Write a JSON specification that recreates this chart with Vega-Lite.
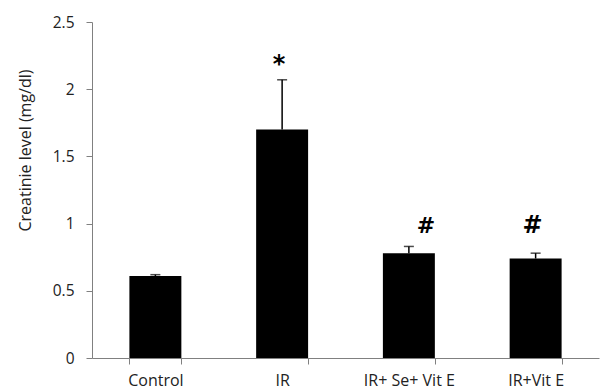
{
  "$schema": "https://vega.github.io/schema/vega-lite/v6.json",
  "width": 507,
  "height": 336,
  "autosize": "none",
  "padding": {"left": 92, "top": 22, "right": 4, "bottom": 33},
  "background": "white",
  "config": {
    "view": {"stroke": null},
    "font": "Open Sans",
    "axis": {"labelFont": "Open Sans", "titleFont": "Open Sans", "grid": false}
  },
  "data": {
    "values": [
      {"group": "Control", "mean": 0.61, "upper": 0.62, "sig": "", "sigY": 0.7},
      {"group": "IR", "mean": 1.70, "upper": 2.07, "sig": "*", "sigY": 2.18},
      {"group": "IR+ Se+ Vit E", "mean": 0.78, "upper": 0.83, "sig": "#", "sigY": 0.98},
      {"group": "IR+Vit E", "mean": 0.74, "upper": 0.78, "sig": "#", "sigY": 0.98}
    ]
  },
  "encoding": {
    "x": {
      "field": "group",
      "type": "nominal",
      "sort": ["Control", "IR", "IR+ Se+ Vit E", "IR+Vit E"],
      "scale": {"paddingInner": 0.59, "paddingOuter": 0.295},
      "axis": {
        "title": null,
        "labelAngle": 0,
        "tickBand": "extent",
        "tickSize": 6,
        "labelPadding": 8,
        "labelFontSize": 16,
        "labelColor": "#222222",
        "domainColor": "#808080",
        "tickColor": "#808080"
      }
    }
  },
  "layer": [
    {
      "mark": {"type": "bar", "color": "black"},
      "encoding": {
        "y": {
          "field": "mean",
          "type": "quantitative",
          "scale": {"domain": [0, 2.5], "nice": false},
          "axis": {
            "title": "Creatinie level (mg/dl)",
            "values": [0, 0.5, 1, 1.5, 2, 2.5],
            "format": "~g",
            "tickSize": 6,
            "labelPadding": 12,
            "labelFontSize": 15.5,
            "labelColor": "#222222",
            "titleFontSize": 16,
            "titleFontWeight": "normal",
            "titleColor": "#222222",
            "titleX": -67,
            "titleY": 128,
            "titleAlign": "center",
            "titleBaseline": "middle",
            "titleAngle": -90,
            "domainColor": "#808080",
            "tickColor": "#808080"
          }
        }
      }
    },
    {
      "mark": {"type": "rule", "color": "black", "strokeWidth": 1.5},
      "encoding": {
        "y": {"field": "mean", "type": "quantitative"},
        "y2": {"field": "upper"}
      }
    },
    {
      "mark": {"type": "tick", "color": "black", "size": 10, "thickness": 1.5},
      "encoding": {
        "y": {"field": "upper", "type": "quantitative"}
      }
    },
    {
      "transform": [{"filter": "datum.group === 'IR' || datum.group === 'IR+Vit E'"}],
      "mark": {"type": "text", "fontSize": 24, "fontWeight": "bold", "font": "DejaVu Sans", "baseline": "middle", "dx": -3},
      "encoding": {
        "y": {"field": "sigY", "type": "quantitative"},
        "text": {"field": "sig"}
      }
    },
    {
      "transform": [{"filter": "datum.group === 'IR+ Se+ Vit E'"}],
      "mark": {"type": "text", "fontSize": 22, "fontWeight": "bold", "font": "DejaVu Sans", "baseline": "middle", "dx": 17},
      "encoding": {
        "y": {"field": "sigY", "type": "quantitative"},
        "text": {"field": "sig"}
      }
    }
  ]
}
